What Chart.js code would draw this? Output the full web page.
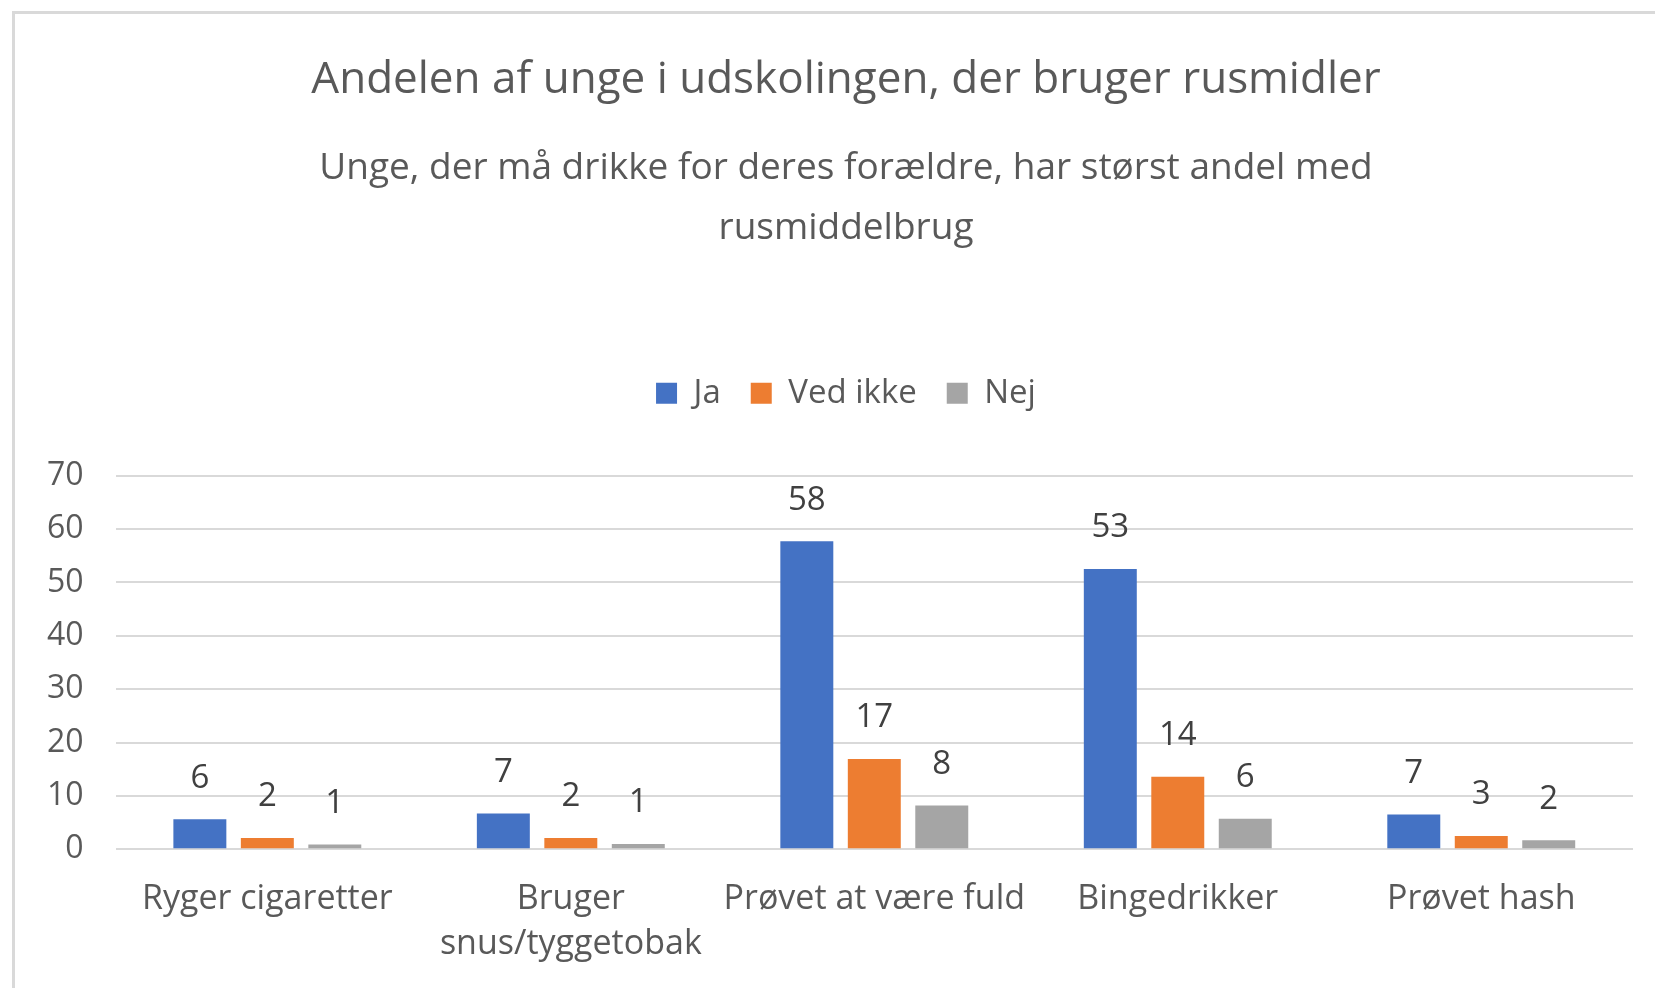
<!DOCTYPE html>
<html>
<head>
<meta charset="utf-8">
<script src="https://cdn.jsdelivr.net/npm/chart.js@4.4.1/dist/chart.umd.min.js"></script>
<style>
  html, body { margin: 0; padding: 0; background: #fff; overflow: hidden; }
  #frame {
    position: absolute; left: 12px; top: 11px;
    width: 1700px; height: 1100px;
    border-left: 3px solid #d9d9d9; border-top: 3px solid #d9d9d9;
  }
  #wrap { position: absolute; left: 15px; top: 14px; width: 1640px; height: 1003px; }
</style>
</head>
<body>
<div id="frame"></div>
<div id="wrap"><canvas id="chart"></canvas></div>
<script>
// data (bar heights; labels are shown rounded)
const categories = ['Ryger cigaretter', ['Bruger', 'snus/tyggetobak'], 'Prøvet at være fuld', 'Bingedrikker', 'Prøvet hash'];
const jaValues = [5.6, 6.7, 57.7, 52.5, 6.5];
const vedIkkeValues = [2.1, 2.1, 16.9, 13.6, 2.5];
const nejValues = [0.9, 1.0, 8.2, 5.7, 1.7];
const yTicks = [0, 10, 20, 30, 40, 50, 60, 70];

const FONT = '"Open Sans", Lato, sans-serif';
const TEXT = '#595959';

// value labels above the bars
const barLabels = {
    id: 'barLabels',
    afterDatasetsDraw(chart) {
        const ctx = chart.ctx;
        ctx.save();
        ctx.font = '33px ' + FONT;
        ctx.fillStyle = '#404040';
        ctx.textAlign = 'center';
        ctx.textBaseline = 'middle';
        chart.data.datasets.forEach((ds, i) => {
            chart.getDatasetMeta(i).data.forEach((bar, j) => {
                ctx.fillText(Math.round(ds.data[j]), bar.x, bar.y - 41);
            });
        });
        ctx.restore();
    }
};

// extra space between legend and plot, and shift the top blocks a bit right
const legendGap = {
    id: 'legendGap',
    beforeInit(chart) {
        const fit = chart.legend.fit;
        chart.legend.fit = function () {
            fit.bind(chart.legend)();
            this.height += 56;
        };
    },
    afterLayout(chart) {
        chart.boxes.filter(b => b.position === 'top').forEach(b => {
            b.left += 22;
            b.right += 22;
        });
    }
};

const ctx = document.getElementById('chart').getContext('2d');
const myChart = new Chart(ctx, {
    type: 'bar',
    data: {
        labels: categories,
        datasets: [
            { label: 'Ja', data: jaValues, backgroundColor: '#4472c4' },
            { label: 'Ved ikke', data: vedIkkeValues, backgroundColor: '#ed7d31' },
            { label: 'Nej', data: nejValues, backgroundColor: '#a5a5a5' }
        ]
    },
    options: {
        responsive: true,
        maintainAspectRatio: false,
        animation: false,
        categoryPercentage: 0.667,
        barPercentage: 0.785,
        layout: { padding: { left: 0, right: 22, bottom: 22, top: 0 } },
        plugins: {
            title: {
                display: true,
                text: 'Andelen af unge i udskolingen, der bruger rusmidler',
                color: TEXT,
                font: { family: FONT, size: 44, weight: 'normal', lineHeight: 1.2 },
                padding: { top: 40, bottom: 0 }
            },
            subtitle: {
                display: true,
                text: ['Unge, der må drikke for deres forældre, har størst andel med', 'rusmiddelbrug'],
                color: TEXT,
                font: { family: FONT, size: 37, lineHeight: 1.62 },
                padding: { top: 32, bottom: 88 }
            },
            legend: {
                display: true,
                position: 'top',
                labels: {
                    color: TEXT,
                    font: { family: FONT, size: 33 },
                    boxWidth: 21,
                    boxHeight: 21,
                    padding: 30
                }
            },
            tooltip: { enabled: false }
        },
        scales: {
            x: {
                grid: { display: false, drawTicks: false },
                border: { display: false },
                ticks: {
                    color: TEXT,
                    font: { family: FONT, size: 34, lineHeight: 1.32 },
                    padding: 28,
                    maxRotation: 0,
                    autoSkip: false
                }
            },
            y: {
                min: 0,
                max: 70,
                afterBuildTicks(scale) { scale.ticks = yTicks.map(v => ({ value: v })); },
                grid: { color: '#d9d9d9', lineWidth: 2, drawTicks: false },
                border: { display: false },
                ticks: {
                    color: TEXT,
                    font: { family: FONT, size: 32 },
                    padding: 32
                }
            }
        }
    },
    plugins: [barLabels, legendGap]
});
</script>
</body>
</html>
